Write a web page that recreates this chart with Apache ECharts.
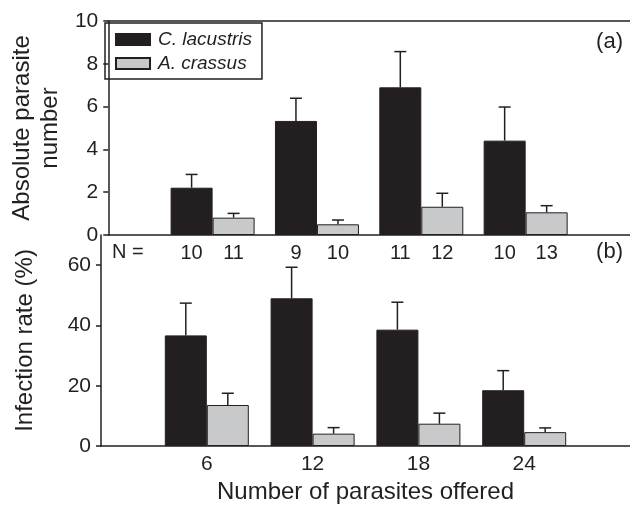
<!DOCTYPE html>
<html>
<head>
<meta charset="utf-8">
<script src="https://cdn.jsdelivr.net/npm/echarts@6/dist/echarts.min.js"></script>
<style>html,body{margin:0;padding:0;background:#fff}#c{width:630px;height:505px}</style>
</head>
<body>
<div id="c"></div>
<script>
// ---- data ----
const xValues = [6, 12, 18, 24];
const seriesNames = ['C. lacustris', 'A. crassus'];
const absLac = [2.21, 5.33, 6.90, 4.41];
const absLacSE = [0.62, 1.06, 1.67, 1.57];
const absCra = [0.81, 0.50, 1.32, 1.06];
const absCraSE = [0.20, 0.20, 0.63, 0.31];
const infLac = [36.7, 49.0, 38.6, 18.5];
const infLacSE = [10.7, 10.3, 9.1, 6.5];
const infCra = [13.6, 4.1, 7.4, 4.6];
const infCraSE = [3.9, 2.0, 3.5, 1.4];
const nLac = [10, 9, 11, 10];
const nCra = [11, 10, 12, 13];
const xTickLabels = ['6', '12', '18', '24'];

// ---- style ----
const INK = '#231f20';
const GREY = '#c8c9cb';
const FONT = '"Liberation Sans", Arial, Helvetica, sans-serif';
const BARW = 42;

const chart = echarts.init(document.getElementById('c'), null, {renderer: 'canvas'});

function pairs(vals) { return xValues.map((x, i) => [x, vals[i]]); }
function errData(vals, se) { return xValues.map((x, i) => [x, vals[i], se[i]]); }

function barSeries(name, xi, yi, vals, color, nArr) {
  const s = {
    name: name, type: 'bar', xAxisIndex: xi, yAxisIndex: yi,
    data: pairs(vals), barWidth: BARW, barGap: '0%',
    itemStyle: {color: color, borderColor: INK, borderWidth: 1},
    emphasis: {disabled: true}, animation: false
  };
  if (nArr) {
    s.label = {
      show: true, position: 'insideBottom', offset: [0, 33],
      color: INK, fontSize: 20, fontFamily: FONT,
      formatter: p => String(nArr[p.dataIndex])
    };
  }
  return s;
}

function errSeries(name, xi, yi, vals, se, dx) {
  return {
    name: name, type: 'custom', xAxisIndex: xi, yAxisIndex: yi,
    data: errData(vals, se), z: 5, silent: true, animation: false,
    renderItem: function (params, api) {
      const x = api.value(0), m = api.value(1), e = api.value(2);
      const p1 = api.coord([x, m]);
      const p2 = api.coord([x, m + e]);
      const cx = p1[0] + dx;
      const st = {stroke: INK, lineWidth: 1.5};
      return {type: 'group', children: [
        {type: 'line', shape: {x1: cx, y1: p1[1], x2: cx, y2: p2[1]}, style: st},
        {type: 'line', shape: {x1: cx - 6, y1: p2[1], x2: cx + 6, y2: p2[1]}, style: st}
      ]};
    }
  };
}

const axisLineStyle = {show: true, lineStyle: {color: INK, width: 1.5}};
const tickLabel = {color: INK, fontSize: 21, fontFamily: FONT};

const option = {
  backgroundColor: '#fff',
  animation: false,
  textStyle: {fontFamily: FONT},
  grid: [
    {left: 101, top: 21, width: 530, height: 214},
    {left: 101, top: 235, width: 530, height: 215}
  ],
  xAxis: [
    {type: 'value', gridIndex: 0, min: 0, max: 30, interval: 6, position: 'bottom',
      axisLine: axisLineStyle, axisTick: {show: false}, axisLabel: {show: false}, splitLine: {show: false}},
    {type: 'value', gridIndex: 1, min: 0, max: 30, interval: 6, position: 'bottom',
      axisLine: axisLineStyle, axisTick: {show: false},
      axisLabel: Object.assign({margin: 8, showMinLabel: false, showMaxLabel: false,
        formatter: v => { const i = xValues.indexOf(v); return i >= 0 ? xTickLabels[i] : ''; }}, tickLabel),
      splitLine: {show: false},
      name: 'Number of parasites offered', nameLocation: 'middle', nameGap: 34,
      nameTextStyle: {color: INK, fontSize: 24, fontFamily: FONT}},
    {type: 'value', gridIndex: 0, min: 0, max: 30, position: 'top',
      axisLine: axisLineStyle, axisTick: {show: false}, axisLabel: {show: false}, splitLine: {show: false}}
  ],
  yAxis: [
    {type: 'value', gridIndex: 0, min: 0, max: 10, interval: 2,
      axisLine: axisLineStyle, axisTick: {show: true, length: 5, lineStyle: {color: INK, width: 1.5}},
      axisLabel: Object.assign({margin: 10}, tickLabel), splitLine: {show: false},
      name: 'Absolute parasite\nnumber', nameLocation: 'middle', nameGap: 32,
      nameTextStyle: {color: INK, fontSize: 24, lineHeight: 28, fontFamily: FONT}},
    {type: 'value', gridIndex: 1, min: 0, max: 70, interval: 20,
      axisLine: axisLineStyle, axisTick: {show: true, length: 5, lineStyle: {color: INK, width: 1.5}},
      axisLabel: Object.assign({margin: 10, showMaxLabel: false}, tickLabel), splitLine: {show: false},
      name: 'Infection rate (%)', nameLocation: 'middle', nameGap: 64,
      nameTextStyle: {color: INK, fontSize: 24, fontFamily: FONT}}
  ],
  legend: {
    data: seriesNames, orient: 'vertical', left: 105, top: 23,
    borderColor: INK, borderWidth: 1.5, borderRadius: 0,
    padding: [7, 10, 6, 10], itemWidth: 34, itemHeight: 11, itemGap: 5,
    icon: 'rect', selectedMode: false,
    textStyle: {color: INK, fontSize: 19, fontStyle: 'italic', fontFamily: FONT, padding: [0, 0, 0, 3]}
  },
  graphic: [
    {type: 'text', left: 112, top: 242, style: {text: 'N =', fill: INK, font: '20px ' + FONT}},
    {type: 'text', right: 7, top: 31, style: {text: '(a)', fill: INK, font: '22px ' + FONT}},
    {type: 'text', right: 7, top: 241, style: {text: '(b)', fill: INK, font: '22px ' + FONT}}
  ],
  series: [
    barSeries(seriesNames[0], 0, 0, absLac, INK, nLac),
    barSeries(seriesNames[1], 0, 0, absCra, GREY, nCra),
    errSeries('errA1', 0, 0, absLac, absLacSE, -BARW / 2),
    errSeries('errA2', 0, 0, absCra, absCraSE, BARW / 2),
    barSeries(seriesNames[0], 1, 1, infLac, INK, null),
    barSeries(seriesNames[1], 1, 1, infCra, GREY, null),
    errSeries('errB1', 1, 1, infLac, infLacSE, -BARW / 2),
    errSeries('errB2', 1, 1, infCra, infCraSE, BARW / 2)
  ]
};
chart.setOption(option);
</script>
</body>
</html>
